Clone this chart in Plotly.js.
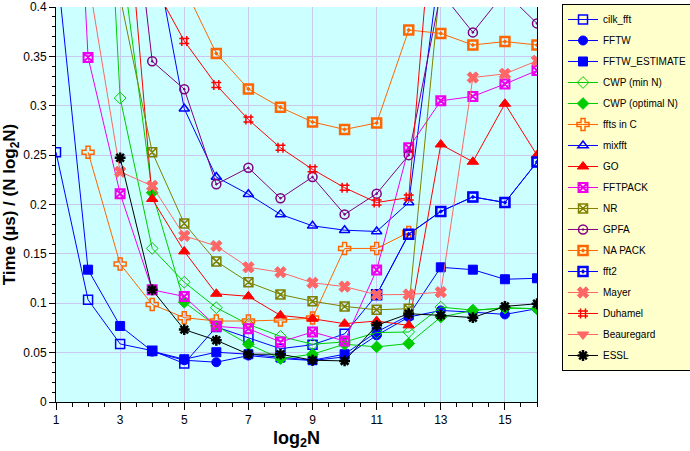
<!DOCTYPE html>
<html>
<head>
<meta charset="utf-8">
<script src="https://cdn.plot.ly/plotly-3.0.1.min.js"></script>
<style>html,body{margin:0;padding:0;background:#fff;}#chart{width:690px;height:451px;}</style>
</head>
<body>
<div id="chart"></div>
<script>
const log2N = [1,2,3,4,5,6,7,8,9,10,11,12,13,14,15,16];

const cilk_fft      = [0.253, 0.1035, 0.0588, 0.052, 0.039, 0.076, 0.065, 0.054, 0.058, 0.069, 0.1086, 0.170, 0.193, 0.2077, 0.202, 0.243];
const fftw          = [null, null, null, 0.051, 0.0423, 0.0403, 0.047, 0.044, 0.042, 0.0457, 0.0675, 0.086, 0.0927, 0.091, 0.0887, 0.0945];
const fftw_estimate = [0.45, 0.134, 0.077, 0.0514, 0.0433, 0.0504, 0.0484, 0.045, 0.0423, 0.0484, 0.0709, 0.0877, 0.1364, 0.134, 0.1243, 0.1253];
const cwp_min       = [null, 0.92, 0.3078, 0.1555, 0.1213, 0.0955, 0.0786, 0.0665, 0.0585, 0.0608, 0.0703, 0.0709, 0.0961, 0.093, 0.095, 0.0945];
const cwp_opt       = [null, null, 0.46, 0.212, 0.101, 0.077, 0.0585, 0.044, 0.0484, 0.0585, 0.0558, 0.0592, 0.086, 0.0927, 0.0955, 0.0945];
const ffts_in_c     = [null, 0.253, 0.1398, 0.0988, 0.0854, 0.082, 0.082, 0.083, 0.085, 0.1555, 0.1555, 0.1717, null, null, null, null];
const mixfft        = [null, null, null, 0.47, 0.297, 0.2278, 0.2104, 0.190, 0.1784, 0.174, 0.1727, 0.202, 0.45, null, null, null];
const go            = [null, null, 0.59, 0.2056, 0.1525, 0.1096, 0.107, 0.0877, 0.0843, 0.0793, 0.082, 0.0776, 0.2608, 0.2433, 0.302, 0.25];
const fftpack       = [0.98, 0.349, 0.211, 0.1136, 0.1069, 0.0766, 0.0743, 0.0608, 0.0709, 0.0618, 0.1338, 0.2574, 0.305, 0.3095, 0.322, 0.3357];
const nr            = [null, null, 0.41, 0.253, 0.1807, 0.1424, 0.1213, 0.1089, 0.1021, 0.0968, 0.0934, 0.0945, 0.43, null, null, null];
const gpfa          = [null, null, 0.63, 0.345, 0.3168, 0.2205, 0.2372, 0.2063, 0.2278, 0.190, 0.211, 0.25, 0.415, 0.3743, 0.415, 0.3834];
const napack        = [null, null, null, null, 0.42, 0.353, 0.317, 0.2984, 0.2836, 0.276, 0.2826, 0.3767, 0.3733, 0.3616, 0.365, 0.3616];
const fft2          = [null, null, null, null, null, null, null, null, null, null, 0.1086, 0.170, 0.193, 0.2077, 0.202, 0.243];
const mayer         = [null, 0.43, 0.2332, 0.2188, 0.1683, 0.158, 0.1364, 0.1314, 0.1207, 0.1169, 0.1086, 0.1089, 0.1112, 0.3286, 0.3323, 0.3455];
const duhamel       = [null, null, null, 0.425, 0.3656, 0.321, 0.286, 0.2574, 0.2356, 0.217, 0.202, 0.207, 0.6, null, null, null];
const beauregard    = [null, null, null, null, null, null, null, null, null, null, null, null, null, null, null, null];
const essl          = [null, null, 0.2473, 0.1136, 0.0733, 0.0625, 0.0484, 0.0484, 0.0423, 0.0416, 0.0776, 0.0894, 0.0877, 0.0854, 0.0968, 0.0995];

const seriesNames = ['cilk_fft','FFTW','FFTW_ESTIMATE','CWP (min N)','CWP (optimal N)','ffts in C','mixfft','GO','FFTPACK','NR','GPFA','NA PACK','fft2','Mayer','Duhamel','Beauregard','ESSL'];
const seriesData = [cilk_fft, fftw, fftw_estimate, cwp_min, cwp_opt, ffts_in_c, mixfft, go, fftpack, nr, gpfa, napack, fft2, mayer, duhamel, beauregard, essl];
const styles = [
  {c:'#0000ff', s:'square-open', z:9, lw:1.5},
  {c:'#0000ff', s:'circle', z:9, lw:1},
  {c:'#0000ff', s:'square', z:9, lw:1},
  {c:'#00cc00', s:'diamond-open', z:9, lw:1},
  {c:'#00cc00', s:'diamond', z:9, lw:1},
  {c:'#ff6600', s:'cross-open', z:10, lw:1.5},
  {c:'#0000ff', s:'triangle-up-open', z:9, lw:1.5},
  {c:'#ff0000', s:'triangle-up', z:10, lw:1},
  {c:'#ee00ee', s:'square-x-open', z:9, lw:2},
  {c:'#808000', s:'square-x-open', z:9, lw:1.5},
  {c:'#800080', s:'circle-open-dot', z:9, lw:1.5},
  {c:'#ff6600', s:'square-open-dot', z:9, lw:2.5},
  {c:'#0000ff', s:'square-open-dot', z:9, lw:2.5},
  {c:'#ff6666', s:'x', z:10, lw:1},
  {c:'#ff0000', s:'hash-open', z:10, lw:1.5},
  {c:'#ff6666', s:'triangle-down', z:10, lw:1},
  {c:'#000000', s:'asterisk-open', z:9, lw:2.5}
];

const traces = seriesNames.map((n,i)=>({
  type:'scatter', mode:'lines+markers', name:n, legendgroup:'g'+i,
  x: log2N, y: seriesData[i], connectgaps:false,
  line:{color:styles[i].c, width:1},
  marker:{symbol:styles[i].s, size:styles[i].z, color:styles[i].c, line:{color:styles[i].c, width:styles[i].lw}},
  showlegend:true
}));

const layout = {
  width:690, height:451,
  margin:{l:56, r:153, t:7, b:49, pad:0, autoexpand:false},
  paper_bgcolor:'#ffffff', plot_bgcolor:'#ccffff',
  font:{family:'Liberation Sans, Arial, sans-serif', color:'#000', size:12},
  showlegend:true,
  legend:{x:1.052, y:1.0076, xanchor:'left', yanchor:'top', bgcolor:'#ffffcc', bordercolor:'#000', borderwidth:1,
          font:{size:10, family:'Liberation Sans, Arial, sans-serif'}, tracegroupgap:2, itemwidth:30, maxheight:440},
  xaxis:{range:[1,16], tick0:1, dtick:2, ticks:'outside', ticklen:7, tickcolor:'#000', showline:true, linecolor:'#000', linewidth:1,
         showgrid:true, gridcolor:'#c8c8f0', zeroline:false, ticklabeloverflow:'allow',
         minor:{dtick:0.5, ticks:'outside', ticklen:4, tickcolor:'#000', showgrid:false},
         title:{text:'log<sub>2</sub>N', font:{size:18, family:'Liberation Sans, Arial, sans-serif', weight:'bold'}, standoff:4},
         tickfont:{size:12}},
  yaxis:{range:[0,0.40002], tick0:0, dtick:0.05, ticks:'outside', ticklen:6, tickcolor:'#000', showline:true, linecolor:'#000', linewidth:1, mirror:true,
         showgrid:true, gridcolor:'#c8c8f0', zeroline:false, ticklabeloverflow:'allow',
         minor:{dtick:0.01, ticks:'outside', ticklen:3, tickcolor:'#000', showgrid:false},
         title:{text:'Time (µs) / (N log<sub>2</sub>N)', font:{size:17, family:'Liberation Sans, Arial, sans-serif', weight:'bold'}, standoff:6},
         tickfont:{size:12}}
};

Plotly.newPlot('chart', traces, layout, {displayModeBar:false, staticPlot:true});
</script>
</body>
</html>
